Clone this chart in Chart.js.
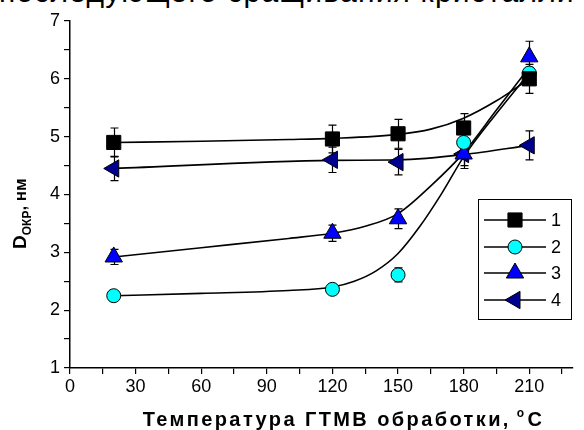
<!DOCTYPE html>
<html lang="ru">
  <head>
    <meta charset="UTF-8" />
    <title>D окр vs температура ГТМВ</title>
    <script src="https://cdn.jsdelivr.net/npm/chart.js@4.4.0/dist/chart.umd.min.js"></script>
    <style>
      body { margin: 0; background: #fff; }
      #wrap { position: relative; width: 584px; height: 430px; overflow: hidden; }
      #topline {
        position: absolute; left: -1px; top: -23px; white-space: nowrap;
        font-family: "Liberation Sans", Arial, sans-serif; font-size: 30px; line-height: 30px;
        letter-spacing: 1.2px; color: #000;
      }
      canvas { position: absolute; left: 0; top: 0; }
    </style>
  </head>
  <body>
    <div id="wrap">
      <div id="topline">последующего сращивания кристалли</div>
      <canvas id="chart" width="584" height="430"></canvas>
    </div>

    <script>
      // temperatures (°C)
      const temps = [20, 120, 150, 180, 210];

      const d1 = [4.90, 4.96, 5.05, 5.15, 6.00];
      const e1 = [0.25, 0.24, 0.25, 0.25, 0.25];
      const d2 = [2.25, 2.36, 2.61, 4.90, 6.10];
      const e2 = [0.07, 0.08, 0.12, 0.08, 0.10];
      const d3 = [2.92, 3.33, 3.58, 4.70, 6.38];
      const e3 = [0.13, 0.14, 0.17, 0.20, 0.27];
      const d4 = [4.45, 4.60, 4.56, 4.70, 4.85];
      const e4 = [0.21, 0.22, 0.22, 0.25, 0.25];

      // fitted curves, sampled from the figure
      const fit1X = [20, 60, 100, 120, 150, 165, 180, 195, 210];
      const fit1Y = [4.90, 4.92, 4.95, 4.97, 5.04, 5.13, 5.32, 5.62, 6.00];
      const fit2X = [20, 60, 100, 120, 130, 140, 150, 160, 170, 180, 195, 210];
      const fit2Y = [2.25, 2.29, 2.34, 2.40, 2.50, 2.68, 2.98, 3.45, 4.02, 4.65, 5.40, 6.10];
      const fit3X = [20, 60, 100, 120, 135, 150, 165, 180, 195, 210];
      const fit3Y = [2.92, 3.08, 3.24, 3.33, 3.45, 3.67, 4.15, 4.72, 5.46, 6.20];
      const fit4X = [20, 120, 150, 180, 210];
      const fit4Y = [4.45, 4.59, 4.60, 4.69, 4.85];

      const seriesNames = ['1', '2', '3', '4'];
      const xTicks = [0, 30, 60, 90, 120, 150, 180, 210];
      const yTicks = [1, 2, 3, 4, 5, 6, 7];

      const xy = (xs, ys) => xs.map((x, i) => ({ x: x, y: ys[i] }));

      const markerStyles = [
        { pointStyle: 'rect', radius: 10, rotation: 0, bg: '#000000' },
        { pointStyle: 'circle', radius: 7, rotation: 0, bg: '#00ffff' },
        { pointStyle: 'triangle', radius: 10, rotation: 0, bg: '#0000ff' },
        { pointStyle: 'triangle', radius: 10, rotation: -90, bg: '#000090' }
      ];

      function pointSet(name, ys, errs, m) {
        return {
          label: name,
          data: xy(temps, ys),
          errs: errs,
          showLine: false,
          pointStyle: m.pointStyle,
          pointRadius: m.radius,
          pointRotation: m.rotation,
          pointBackgroundColor: m.bg,
          pointBorderColor: '#000',
          pointBorderWidth: 1,
          order: 1
        };
      }

      function fitSet(xs, ys) {
        return {
          data: xy(xs, ys),
          showLine: true,
          borderColor: '#000',
          borderWidth: 1.6,
          pointRadius: 0,
          cubicInterpolationMode: 'monotone',
          fill: false,
          order: 2
        };
      }

      // vertical error bars under the markers
      const errorBars = {
        id: 'errorBars',
        beforeDatasetsDraw(chart) {
          const ctx = chart.ctx, xs = chart.scales.x, ys = chart.scales.y;
          ctx.save();
          ctx.strokeStyle = '#000';
          ctx.lineWidth = 1.2;
          chart.data.datasets.forEach(ds => {
            if (!ds.errs) return;
            ds.data.forEach((p, i) => {
              const px = Math.round(xs.getPixelForValue(p.x)) + 0.5;
              const top = ys.getPixelForValue(p.y + ds.errs[i]);
              const bot = ys.getPixelForValue(p.y - ds.errs[i]);
              ctx.beginPath();
              ctx.moveTo(px, top); ctx.lineTo(px, bot);
              ctx.moveTo(px - 4, top); ctx.lineTo(px + 4, top);
              ctx.moveTo(px - 4, bot); ctx.lineTo(px + 4, bot);
              ctx.stroke();
            });
          });
          ctx.restore();
        }
      };

      // axis titles and the boxed legend
      const decor = {
        id: 'decor',
        afterDraw(chart) {
          const ctx = chart.ctx;
          ctx.save();
          ctx.fillStyle = '#000';
          ctx.textBaseline = 'alphabetic';
          ctx.textAlign = 'left';

          // x title with superscript degree
          const big = 'bold 20px "Liberation Sans", Arial, sans-serif';
          const small = 'bold 12px "Liberation Sans", Arial, sans-serif';
          const t1 = 'Температура ГТМВ обработки, ';
          ctx.letterSpacing = '2.4px';
          ctx.font = big;
          const w1 = ctx.measureText(t1).width;
          const wC = ctx.measureText('C').width;
          ctx.font = small;
          const wo = ctx.measureText('o').width;
          let x0 = 344 - (w1 + wo + wC) / 2;
          ctx.font = big;
          ctx.fillText(t1, x0, 426);
          ctx.font = small;
          ctx.fillText('o', x0 + w1 - 2, 417);
          ctx.font = big;
          ctx.fillText('C', x0 + w1 + wo - 1, 426);
          ctx.letterSpacing = '0px';

          // y title, rotated, with subscript
          ctx.translate(26, 249);
          ctx.rotate(-Math.PI / 2);
          ctx.font = 'bold 19px "Liberation Sans", Arial, sans-serif';
          ctx.fillText('D', 0, 0);
          let cx = ctx.measureText('D').width;
          ctx.font = small;
          ctx.fillText('ОКР', cx, 5);
          cx += ctx.measureText('ОКР').width;
          ctx.font = 'bold 17px "Liberation Sans", Arial, sans-serif';
          ctx.fillText(', нм', cx, 0);
          ctx.setTransform(1, 0, 0, 1, 0, 0);

          // legend box
          ctx.strokeStyle = '#000';
          ctx.lineWidth = 1;
          ctx.strokeRect(478.5, 199.5, 93, 120);
          const rows = [220, 247, 273, 300];
          ctx.font = '18px "Liberation Sans", Arial, sans-serif';
          ctx.textBaseline = 'middle';
          seriesNames.forEach((name, i) => {
            const y = rows[i];
            ctx.beginPath();
            ctx.lineWidth = 1.5;
            ctx.moveTo(484, y); ctx.lineTo(546, y);
            ctx.stroke();
            const m = markerStyles[i];
            ctx.fillStyle = m.bg;
            ctx.lineWidth = 1;
            Chart.helpers.drawPoint(ctx, { pointStyle: m.pointStyle, radius: m.radius, rotation: m.rotation, borderWidth: 1 }, 515, y);
            ctx.fillStyle = '#000';
            ctx.fillText(name, 551, y + 1);
          });
          ctx.restore();
        }
      };

      const datasets = [
        pointSet(seriesNames[0], d1, e1, markerStyles[0]),
        pointSet(seriesNames[1], d2, e2, markerStyles[1]),
        pointSet(seriesNames[2], d3, e3, markerStyles[2]),
        pointSet(seriesNames[3], d4, e4, markerStyles[3]),
        fitSet(fit1X, fit1Y),
        fitSet(fit2X, fit2Y),
        fitSet(fit3X, fit3Y),
        fitSet(fit4X, fit4Y)
      ];

      const tickFont = { family: '"Liberation Sans", Arial, sans-serif', size: 18 };

      new Chart(document.getElementById('chart'), {
        type: 'scatter',
        data: { datasets: datasets },
        options: {
          responsive: false,
          animation: false,
          events: [],
          layout: { padding: { top: 21, right: 0, left: 0, bottom: 0 } },
          plugins: { legend: { display: false }, tooltip: { enabled: false } },
          scales: {
            x: {
              type: 'linear', min: 0, max: 230,
              afterFit: s => { s.height = 62; },
              ticks: {
                stepSize: 15, includeBounds: false, autoSkip: false, maxRotation: 0,
                color: '#000', font: tickFont, padding: 2,
                callback: v => xTicks.includes(v) ? String(v) : ''
              },
              grid: { drawOnChartArea: false, tickLength: 6, color: '#000', lineWidth: 1.2 },
              border: { color: '#000', width: 1.5 }
            },
            y: {
              type: 'linear', min: 1, max: 7,
              afterFit: s => { s.width = 70; },
              ticks: {
                stepSize: 0.5, autoSkip: false, color: '#000', font: tickFont, padding: 4,
                callback: v => yTicks.includes(v) ? String(v) : ''
              },
              grid: { drawOnChartArea: false, tickLength: 6, color: '#000', lineWidth: 1.2 },
              border: { color: '#000', width: 1.5 }
            }
          }
        },
        plugins: [errorBars, decor]
      });
    </script>
  </body>
</html>
